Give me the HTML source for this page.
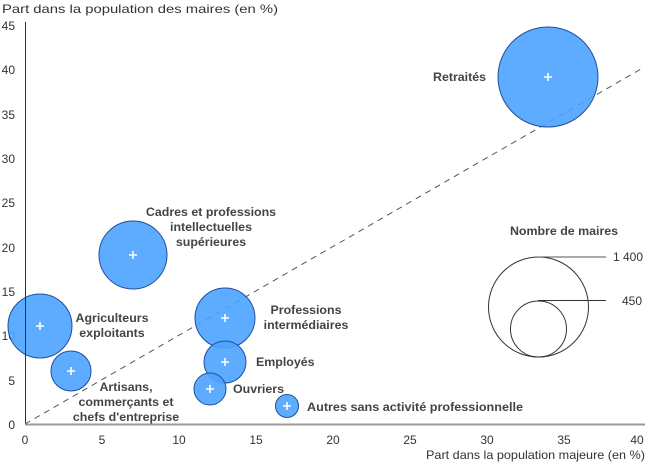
<!DOCTYPE html>
<html><head><meta charset="utf-8"><style>
body{margin:0;background:#fff}
svg{display:block;font-family:"Liberation Sans",sans-serif}
.t{font-size:12px;fill:#333}
.l{font-size:12.4px;font-weight:bold;fill:#444}
.b{fill:#4da3ff;fill-opacity:.9;stroke:#1f4e9e;stroke-width:1}
.p{stroke:#fff;stroke-width:1.6}
</style></head><body>
<svg width="650" height="464" viewBox="0 0 650 464">
<text x="2" y="13" class="t" textLength="276" lengthAdjust="spacingAndGlyphs">Part dans la population des maires (en %)</text>
<g class="t" text-anchor="end">
<text x="15" y="429">0</text><text x="15" y="385">5</text><text x="15" y="340">10</text><text x="15" y="296">15</text><text x="15" y="252">20</text><text x="15" y="207">25</text><text x="15" y="163">30</text><text x="15" y="119">35</text><text x="15" y="74">40</text><text x="15" y="30">45</text>
</g>
<g class="t" text-anchor="middle">
<text x="25" y="444">0</text><text x="102" y="444">5</text><text x="179" y="444">10</text><text x="256" y="444">15</text><text x="333" y="444">20</text><text x="410" y="444">25</text><text x="487" y="444">30</text><text x="564" y="444">35</text><text x="637" y="444">40</text>
</g>
<text x="426" y="459" class="t" textLength="219" lengthAdjust="spacingAndGlyphs">Part dans la population majeure (en %)</text>
<line x1="25" y1="424" x2="641" y2="69" stroke="#555" stroke-dasharray="6,5"/>
<g>
<circle class="b" cx="548" cy="77" r="50"/>
<circle class="b" cx="133" cy="255" r="34"/>
<circle class="b" cx="40" cy="326" r="32"/>
<circle class="b" cx="71" cy="371" r="20"/>
<circle class="b" cx="225" cy="318" r="30"/>
<circle class="b" cx="225" cy="362" r="21"/>
<circle class="b" cx="210" cy="389" r="16"/>
<circle class="b" cx="287" cy="406" r="11.5"/>
</g>
<line x1="25.5" y1="22" x2="25.5" y2="424" stroke="#333"/>
<line x1="25" y1="424.5" x2="645" y2="424.5" stroke="#999" stroke-width="2"/>
<g class="p">
<path d="M544 77h8M548 73v8"/><path d="M129 255h8M133 251v8"/><path d="M36 326h8M40 322v8"/><path d="M67 371h8M71 367v8"/><path d="M221 318h8M225 314v8"/><path d="M221 362h8M225 358v8"/><path d="M206 389h8M210 385v8"/><path d="M283 406h8M287 402v8"/>
</g>
<g class="l">
<text x="433" y="81">Retraités</text>
<text x="211" y="216" text-anchor="middle">Cadres et professions</text>
<text x="211" y="231" text-anchor="middle">intellectuelles</text>
<text x="211" y="246" text-anchor="middle">supérieures</text>
<text x="112" y="322" text-anchor="middle">Agriculteurs</text>
<text x="112" y="337" text-anchor="middle">exploitants</text>
<text x="126" y="391" text-anchor="middle">Artisans,</text>
<text x="126" y="406" text-anchor="middle">commerçants et</text>
<text x="126" y="421" text-anchor="middle">chefs d'entreprise</text>
<text x="306" y="314" text-anchor="middle">Professions</text>
<text x="306" y="329" text-anchor="middle">intermédiaires</text>
<text x="256" y="366">Employés</text>
<text x="233" y="393">Ouvriers</text>
<text x="307" y="411" textLength="216" lengthAdjust="spacingAndGlyphs">Autres sans activité professionnelle</text>
<text x="564" y="235" text-anchor="middle">Nombre de maires</text>
</g>
<circle cx="538.5" cy="307" r="50" fill="none" stroke="#333"/>
<circle cx="538.5" cy="329" r="28" fill="none" stroke="#333"/>
<line x1="538" y1="257" x2="606" y2="257" stroke="#555"/>
<line x1="538" y1="300.5" x2="606" y2="300.5" stroke="#333"/>
<text x="613" y="261" class="t">1 400</text>
<text x="622" y="305" class="t">450</text>
</svg>
</body></html>
